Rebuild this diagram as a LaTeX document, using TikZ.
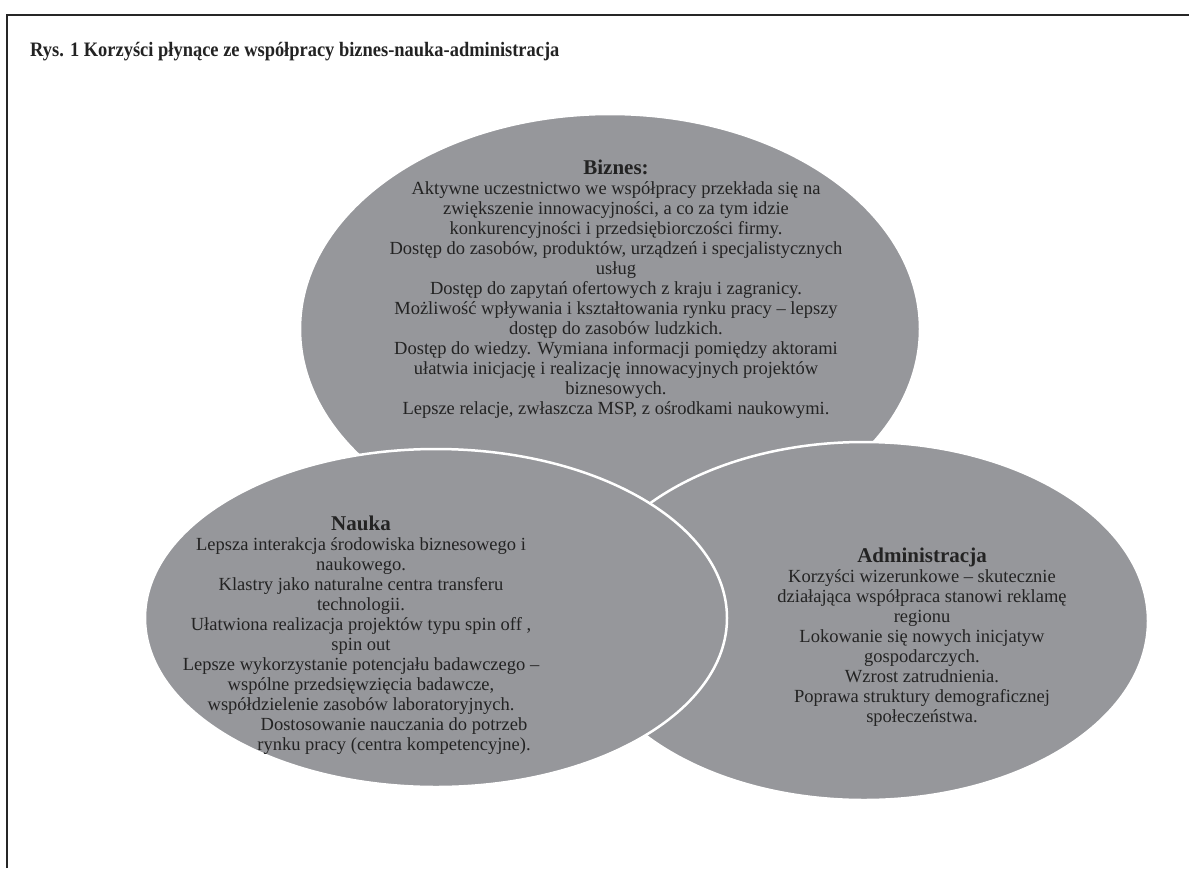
\documentclass[tikz,border=0pt]{standalone}
\usepackage{fontspec}
\setmainfont{Liberation Serif}
\usepackage{xcolor}
\usepackage{graphicx}
\usepackage{tikz}
\definecolor{blobgray}{RGB}{150,151,155}
\definecolor{inkgray}{RGB}{35,35,35}
\newcommand{\headline}[1]{{\fontsize{21}{20}\selectfont\bfseries #1}}

\begin{document}
\begin{tikzpicture}[x=1pt, y=-1pt,
    blob/.style={fill=blobgray, draw=white, line width=2.5pt},
    txt/.style={align=center, inner sep=0pt, text=inkgray, font=\fontsize{18.5}{20}\selectfont}]
    % Page and frame
    \fill[white] (0,0) rectangle (1189,868);
    \useasboundingbox (0,0) rectangle (1189,868);
    \draw[line width=2pt, black!85] (7,868) -- (7,15) -- (1189,15);

    % Title
    \node[anchor=west, inner sep=0pt, text=inkgray, font=\fontsize{20.5}{24}\selectfont\bfseries] (title) at (30,52)
        {\scalebox{0.9}[1]{Rys. 1 Korzyści płynące ze współpracy biznes-nauka-administracja}};

    % The three ellipses (back to front)
    \draw[blob] (610,329) ellipse [x radius=310pt, y radius=215pt];
    \draw[blob] (864,621) ellipse [x radius=284pt, y radius=179pt];
    \draw[blob] (436,618) ellipse [x radius=291pt, y radius=169pt];

    % Biznes
    \node[txt, anchor=north] (biznes) at (616,160) {
        \headline{Biznes:}\\
        Aktywne uczestnictwo we współpracy przekłada się na\\
        zwiększenie innowacyjności, a co za tym idzie\\
        konkurencyjności i przedsiębiorczości firmy.\\
        Dostęp do zasobów, produktów, urządzeń i specjalistycznych\\
        usług\\
        Dostęp do zapytań ofertowych z kraju i zagranicy.\\
        Możliwość wpływania i kształtowania rynku pracy – lepszy\\
        dostęp do zasobów ludzkich.\\
        Dostęp do wiedzy. Wymiana informacji pomiędzy aktorami\\
        ułatwia inicjację i realizację innowacyjnych projektów\\
        biznesowych.\\
        Lepsze relacje, zwłaszcza MSP, z ośrodkami naukowymi.
    };

    % Nauka
    \node[txt, anchor=north] (nauka) at (361,516) {
        \headline{Nauka}\\
        Lepsza interakcja środowiska biznesowego i\\
        naukowego.\\
        Klastry jako naturalne centra transferu\\
        technologii.\\
        Ułatwiona realizacja projektów typu spin off ,\\
        spin out\\
        Lepsze wykorzystanie potencjału badawczego –\\
        wspólne przedsięwzięcia badawcze,\\
        współdzielenie zasobów laboratoryjnych.\\
        \hspace*{66pt}Dostosowanie nauczania do potrzeb\\
        \hspace*{66pt}rynku pracy (centra kompetencyjne).
    };

    % Administracja
    \node[txt, anchor=north] (admin) at (922,548) {
        \headline{Administracja}\\
        Korzyści wizerunkowe – skutecznie\\
        działająca współpraca stanowi reklamę\\
        regionu\\
        Lokowanie się nowych inicjatyw\\
        gospodarczych.\\
        Wzrost zatrudnienia.\\
        Poprawa struktury demograficznej\\
        społeczeństwa.
    };
\end{tikzpicture}
\end{document}
